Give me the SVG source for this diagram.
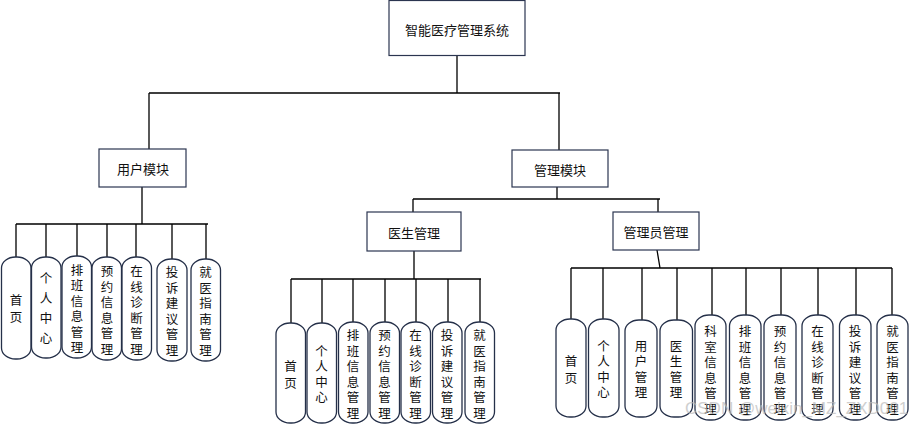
<svg xmlns="http://www.w3.org/2000/svg" width="909" height="426" viewBox="0 0 909 426">
<style>
.box{fill:#fff;stroke:#2b3550;stroke-width:1.2}
.leaf{fill:#fff;stroke:#253049;stroke-width:1.3}
.ln{fill:none;stroke:#000;stroke-width:1.3}
text{font-family:"Noto Sans CJK SC","Noto Sans",sans-serif;font-size:13px;fill:#111;text-anchor:middle;dominant-baseline:central}
.c{font-size:12.5px}
.wm{font-family:"Liberation Sans",sans-serif;font-size:17px;fill:#bbb;opacity:0.7;text-anchor:start}
</style>
<rect width="909" height="426" fill="#fff"/>
<g id="connectors">
<path class="ln" d="M457 55V93M149 93H560M149 93V149M559 93V150"/>
<path class="ln" d="M142 187V224M16 224H208M16 224V257M46 224V257M77 224V256M107 224V257M136 224V257M172 224V259M206 224V259"/>
<path class="ln" d="M557 187V199M413 199H660M413 199V212M658 199V212"/>
<path class="ln" d="M414 251V279M291 279H481M291 279V323M322 279V323M353 279V322M385 279V322M416 279V322M448 279V322M480 279V322"/>
<path class="ln" d="M657 250L660 268M571 268H892M571 268V319M603 268V319M642 268V320M677 268V320M712 268V315M746 268V315M781 268V315M818 268V315M856 268V315M892 268V315"/>
</g>
<g id="root"><rect class="box" x="389" y="0.5" width="136" height="55"/><text x="457" y="29">智能医疗管理系统</text></g>
<g id="user"><rect class="box" x="99" y="149" width="87" height="38"/><text x="143" y="168">用户模块</text></g>
<g id="manage"><rect class="box" x="512" y="150" width="96" height="37"/><text x="560" y="169">管理模块</text></g>
<g id="doctor"><rect class="box" x="367" y="212" width="94" height="39"/><text x="414" y="232">医生管理</text></g>
<g id="admin"><rect class="box" x="613" y="212" width="86" height="38"/><text x="656" y="231">管理员管理</text></g>

<g id="u1"><rect class="leaf" x="1.5" y="257" width="29.5" height="102" rx="14" ry="11"/><text class="c"><tspan x="16" y="299">首</tspan><tspan x="16" y="316">页</tspan></text></g>
<g id="u2"><rect class="leaf" x="31.5" y="257" width="29.5" height="101" rx="14" ry="11"/><text class="c"><tspan x="46" y="277">个</tspan><tspan x="46" y="297">人</tspan><tspan x="46" y="317">中</tspan><tspan x="46" y="337">心</tspan></text></g>
<g id="u3"><rect class="leaf" x="62" y="256" width="29.5" height="102" rx="14" ry="11"/><text class="c"><tspan x="77" y="268.75">排</tspan><tspan x="77" y="284.25">班</tspan><tspan x="77" y="299.75">信</tspan><tspan x="77" y="315.25">息</tspan><tspan x="77" y="330.75">管</tspan><tspan x="77" y="346.25">理</tspan></text></g>
<g id="u4"><rect class="leaf" x="92" y="257" width="29.5" height="103" rx="14" ry="11"/><text class="c"><tspan x="107" y="270.25">预</tspan><tspan x="107" y="285.75">约</tspan><tspan x="107" y="301.25">信</tspan><tspan x="107" y="316.75">息</tspan><tspan x="107" y="332.25">管</tspan><tspan x="107" y="347.75">理</tspan></text></g>
<g id="u5"><rect class="leaf" x="122" y="257" width="29.5" height="103" rx="14" ry="11"/><text class="c"><tspan x="136.5" y="270.25">在</tspan><tspan x="136.5" y="285.75">线</tspan><tspan x="136.5" y="301.25">诊</tspan><tspan x="136.5" y="316.75">断</tspan><tspan x="136.5" y="332.25">管</tspan><tspan x="136.5" y="347.75">理</tspan></text></g>
<g id="u6"><rect class="leaf" x="157" y="259" width="30" height="102" rx="14" ry="11"/><text class="c"><tspan x="172" y="271.25">投</tspan><tspan x="172" y="286.75">诉</tspan><tspan x="172" y="302.25">建</tspan><tspan x="172" y="317.75">议</tspan><tspan x="172" y="333.25">管</tspan><tspan x="172" y="348.75">理</tspan></text></g>
<g id="u7"><rect class="leaf" x="191" y="259" width="29.5" height="102" rx="14" ry="11"/><text class="c"><tspan x="205.5" y="271.25">就</tspan><tspan x="205.5" y="286.75">医</tspan><tspan x="205.5" y="302.25">指</tspan><tspan x="205.5" y="317.75">南</tspan><tspan x="205.5" y="333.25">管</tspan><tspan x="205.5" y="348.75">理</tspan></text></g>

<g id="d1"><rect class="leaf" x="276" y="323" width="29.5" height="100" rx="14" ry="11"/><text class="c"><tspan x="290.5" y="365">首</tspan><tspan x="290.5" y="382">页</tspan></text></g>
<g id="d2"><rect class="leaf" x="307" y="323" width="29.5" height="100" rx="14" ry="11"/><text class="c"><tspan x="321.5" y="349.75">个</tspan><tspan x="321.5" y="365.25">人</tspan><tspan x="321.5" y="380.75">中</tspan><tspan x="321.5" y="396.25">心</tspan></text></g>
<g id="d3"><rect class="leaf" x="338.5" y="322" width="29.5" height="101" rx="14" ry="11"/><text class="c"><tspan x="353" y="334.25">排</tspan><tspan x="353" y="349.75">班</tspan><tspan x="353" y="365.25">信</tspan><tspan x="353" y="380.75">息</tspan><tspan x="353" y="396.25">管</tspan><tspan x="353" y="411.75">理</tspan></text></g>
<g id="d4"><rect class="leaf" x="370" y="322" width="29.5" height="101" rx="14" ry="11"/><text class="c"><tspan x="384.5" y="334.25">预</tspan><tspan x="384.5" y="349.75">约</tspan><tspan x="384.5" y="365.25">信</tspan><tspan x="384.5" y="380.75">息</tspan><tspan x="384.5" y="396.25">管</tspan><tspan x="384.5" y="411.75">理</tspan></text></g>
<g id="d5"><rect class="leaf" x="401" y="322" width="29.5" height="101" rx="14" ry="11"/><text class="c"><tspan x="415.5" y="334.25">在</tspan><tspan x="415.5" y="349.75">线</tspan><tspan x="415.5" y="365.25">诊</tspan><tspan x="415.5" y="380.75">断</tspan><tspan x="415.5" y="396.25">管</tspan><tspan x="415.5" y="411.75">理</tspan></text></g>
<g id="d6"><rect class="leaf" x="432.5" y="322" width="29.5" height="101" rx="14" ry="11"/><text class="c"><tspan x="447" y="334.25">投</tspan><tspan x="447" y="349.75">诉</tspan><tspan x="447" y="365.25">建</tspan><tspan x="447" y="380.75">议</tspan><tspan x="447" y="396.25">管</tspan><tspan x="447" y="411.75">理</tspan></text></g>
<g id="d7"><rect class="leaf" x="465" y="322" width="29.5" height="101" rx="14" ry="11"/><text class="c"><tspan x="479.5" y="334.25">就</tspan><tspan x="479.5" y="349.75">医</tspan><tspan x="479.5" y="365.25">指</tspan><tspan x="479.5" y="380.75">南</tspan><tspan x="479.5" y="396.25">管</tspan><tspan x="479.5" y="411.75">理</tspan></text></g>

<g id="a1"><rect class="leaf" x="556" y="319" width="30" height="98" rx="14" ry="11"/><text class="c"><tspan x="571" y="360">首</tspan><tspan x="571" y="377">页</tspan></text></g>
<g id="a2"><rect class="leaf" x="588.5" y="319" width="30.5" height="98" rx="14" ry="11"/><text class="c"><tspan x="603.5" y="344.75">个</tspan><tspan x="603.5" y="360.25">人</tspan><tspan x="603.5" y="375.75">中</tspan><tspan x="603.5" y="391.25">心</tspan></text></g>
<g id="a3"><rect class="leaf" x="625" y="320" width="32" height="97" rx="14" ry="11"/><text class="c"><tspan x="641" y="344.75">用</tspan><tspan x="641" y="360.25">户</tspan><tspan x="641" y="375.75">管</tspan><tspan x="641" y="391.25">理</tspan></text></g>
<g id="a4"><rect class="leaf" x="660" y="320" width="32.5" height="97" rx="14" ry="11"/><text class="c"><tspan x="676" y="344.75">医</tspan><tspan x="676" y="360.25">生</tspan><tspan x="676" y="375.75">管</tspan><tspan x="676" y="391.25">理</tspan></text></g>
<g id="a5"><rect class="leaf" x="695" y="315" width="31" height="105" rx="14" ry="11"/><text class="c"><tspan x="710.5" y="330.25">科</tspan><tspan x="710.5" y="345.75">室</tspan><tspan x="710.5" y="361.25">信</tspan><tspan x="710.5" y="376.75">息</tspan><tspan x="710.5" y="392.25">管</tspan><tspan x="710.5" y="407.75">理</tspan></text></g>
<g id="a6"><rect class="leaf" x="729.5" y="315" width="31.5" height="105" rx="14" ry="11"/><text class="c"><tspan x="745" y="330.25">排</tspan><tspan x="745" y="345.75">班</tspan><tspan x="745" y="361.25">信</tspan><tspan x="745" y="376.75">息</tspan><tspan x="745" y="392.25">管</tspan><tspan x="745" y="407.75">理</tspan></text></g>
<g id="a7"><rect class="leaf" x="764" y="315" width="32" height="105" rx="14" ry="11"/><text class="c"><tspan x="780" y="330.25">预</tspan><tspan x="780" y="345.75">约</tspan><tspan x="780" y="361.25">信</tspan><tspan x="780" y="376.75">息</tspan><tspan x="780" y="392.25">管</tspan><tspan x="780" y="407.75">理</tspan></text></g>
<g id="a8"><rect class="leaf" x="802" y="315" width="31" height="105" rx="14" ry="11"/><text class="c"><tspan x="817.5" y="330.25">在</tspan><tspan x="817.5" y="345.75">线</tspan><tspan x="817.5" y="361.25">诊</tspan><tspan x="817.5" y="376.75">断</tspan><tspan x="817.5" y="392.25">管</tspan><tspan x="817.5" y="407.75">理</tspan></text></g>
<g id="a9"><rect class="leaf" x="839.5" y="315" width="31.5" height="105" rx="14" ry="11"/><text class="c"><tspan x="855" y="330.25">投</tspan><tspan x="855" y="345.75">诉</tspan><tspan x="855" y="361.25">建</tspan><tspan x="855" y="376.75">议</tspan><tspan x="855" y="392.25">管</tspan><tspan x="855" y="407.75">理</tspan></text></g>
<g id="a10"><rect class="leaf" x="877" y="315" width="31" height="105" rx="14" ry="11"/><text class="c"><tspan x="892.5" y="330.25">就</tspan><tspan x="892.5" y="345.75">医</tspan><tspan x="892.5" y="361.25">指</tspan><tspan x="892.5" y="376.75">南</tspan><tspan x="892.5" y="392.25">管</tspan><tspan x="892.5" y="407.75">理</tspan></text></g>

<text class="wm" x="685" y="408">CSDN @weixin_MZ_ZXD001</text>
</svg>
